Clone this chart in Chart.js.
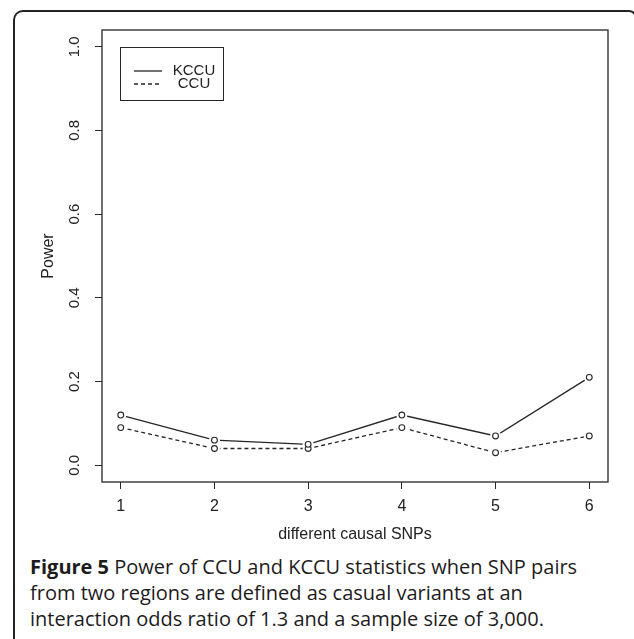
<!DOCTYPE html>
<html>
<head>
<meta charset="utf-8">
<script src="https://cdn.jsdelivr.net/npm/chart.js@4/dist/chart.umd.min.js"></script>
<style>
body { margin: 0; width: 634px; height: 639px; overflow: hidden; background: #fff; position: relative; }
#frame { position: absolute; left: 13px; top: 10px; width: 624px; height: 660px; border: 2px solid #222; border-bottom: none; border-radius: 10px 8px 0 0; box-sizing: border-box; }
#chart { position: absolute; left: 0; top: 0; }
#caption { position: absolute; left: 30px; top: 554px; font-family: "Open Sans"; font-size: 20px; line-height: 26px; color: #1e1b1c; white-space: nowrap; }
</style>
</head>
<body>
<div id="frame"></div>
<canvas id="chart" width="634" height="550"></canvas>
<div id="caption"><b>Figure 5</b> Power of CCU and KCCU statistics when SNP pairs<br>from two regions are defined as casual variants at an<br>interaction odds ratio of 1.3 and a sample size of 3,000.</div>
<script>
// values
let snps = [1, 2, 3, 4, 5, 6];
let kccuPower = [0.12, 0.06, 0.05, 0.12, 0.07, 0.21];
let ccuPower = [0.09, 0.04, 0.04, 0.09, 0.03, 0.07];
let yTicks = [0, 0.2, 0.4, 0.6, 0.8, 1.0];
let xTicks = [1, 2, 3, 4, 5, 6];

const ink = '#262626';
const fontFamily = '"Liberation Sans", Arial, sans-serif';

function toPoints(values) {
    return snps.map((s, i) => ({x: s, y: values[i]}));
}

function lineSet(label, values, dash, order) {
    return {
        label: label,
        data: toPoints(values),
        showLine: true,
        borderColor: ink,
        borderWidth: 1.3,
        borderDash: dash,
        pointRadius: 5.5,
        pointBorderWidth: 0,
        pointBackgroundColor: '#fff',
        pointBorderColor: '#fff',
        order: order
    };
}

function circleSet(values) {
    return {
        label: '',
        data: toPoints(values),
        showLine: false,
        pointRadius: 2.9,
        pointBorderWidth: 1.1,
        pointBorderColor: ink,
        pointBackgroundColor: '#fff',
        order: 0
    };
}

// R style plot box + legend box
const boxAndLegend = {
    id: 'boxAndLegend',
    afterDraw(chart) {
        let ctx = chart.ctx;
        let a = chart.chartArea;
        ctx.save();
        ctx.strokeStyle = ink;
        ctx.lineWidth = 1.3;
        ctx.strokeRect(a.left, a.top, a.right - a.left, a.bottom - a.top);

        ctx.lineWidth = 1;
        ctx.strokeRect(a.left + 18.5, a.top + 17.5, 103, 53);
        ctx.font = '15px ' + fontFamily;
        ctx.fillStyle = '#222';
        ctx.textAlign = 'center';
        ctx.textBaseline = 'middle';
        let rows = chart.data.datasets.filter(d => d.showLine);
        rows.forEach((d, i) => {
            let y = a.top + 41 + i * 13;
            ctx.setLineDash(d.borderDash || []);
            ctx.lineWidth = d.borderWidth;
            ctx.beginPath();
            ctx.moveTo(a.left + 32, y);
            ctx.lineTo(a.left + 60, y);
            ctx.stroke();
            ctx.fillText(d.label, a.left + 92, y);
        });
        ctx.restore();
    }
};

new Chart(document.getElementById('chart').getContext('2d'), {
    type: 'scatter',
    data: {
        datasets: [
            lineSet('KCCU', kccuPower, [], 2),
            lineSet('CCU', ccuPower, [4, 3], 3),
            circleSet(kccuPower),
            circleSet(ccuPower)
        ]
    },
    options: {
        responsive: false,
        animation: false,
        layout: {
            padding: {top: 30, right: 26, left: 0, bottom: 0}
        },
        plugins: {
            legend: {display: false},
            tooltip: {enabled: false}
        },
        scales: {
            x: {
                type: 'linear',
                min: 0.8,
                max: 6.2,
                afterBuildTicks: s => { s.ticks = xTicks.map(v => ({value: v})); },
                afterFit: s => { s.height = 68; },
                border: {display: false},
                grid: {drawOnChartArea: false, tickLength: 7, color: ink, lineWidth: 1},
                ticks: {
                    padding: 8,
                    maxRotation: 0,
                    color: '#222',
                    font: {family: fontFamily, size: 16}
                },
                title: {
                    display: true,
                    text: 'different causal SNPs',
                    color: '#222',
                    font: {family: fontFamily, size: 16, lineHeight: 1},
                    padding: {top: 0, bottom: 7}
                }
            },
            y: {
                type: 'linear',
                min: -0.04,
                max: 1.04,
                afterBuildTicks: s => { s.ticks = yTicks.map(v => ({value: v})); },
                afterFit: s => { s.width = 102; },
                border: {display: false},
                grid: {drawOnChartArea: false, tickLength: 7, color: ink, lineWidth: 1},
                ticks: {
                    padding: 10,
                    minRotation: 90,
                    maxRotation: 90,
                    crossAlign: 'center',
                    color: '#222',
                    font: {family: fontFamily, size: 15},
                    callback: v => v.toFixed(1)
                },
                title: {
                    display: true,
                    text: 'Power',
                    color: '#222',
                    font: {family: fontFamily, size: 16, lineHeight: 1},
                    padding: {top: 41, bottom: 0}
                }
            }
        }
    },
    plugins: [boxAndLegend]
});
</script>
</body>
</html>
